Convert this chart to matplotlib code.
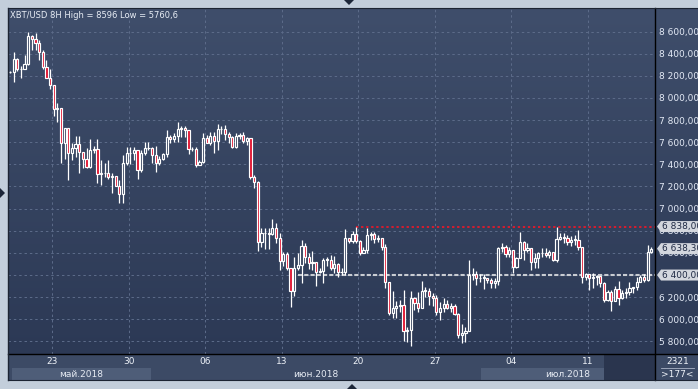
import numpy as np
import matplotlib
matplotlib.use("Agg")
import matplotlib.pyplot as plt
from matplotlib.colors import LinearSegmentedColormap
from matplotlib.patches import Rectangle, Polygon
from matplotlib.lines import Line2D

# XBT/USD 8H candles (open = previous close)
first_open = 8231
closes = [8231, 8349, 8258, 8261, 8306, 8559, 8529, 8499, 8412, 8282,
          8177, 8114, 7897, 7906, 7590, 7725, 7500, 7545, 7580, 7508,
          7445, 7380, 7530, 7540, 7310, 7320, 7318, 7283, 7295, 7208,
          7132, 7409, 7500, 7505, 7530, 7349, 7500, 7545, 7550, 7485,
          7410, 7445, 7490, 7644, 7625, 7655, 7720, 7725, 7710, 7535,
          7540, 7395, 7424, 7635, 7596, 7656, 7614, 7716, 7716, 7671,
          7644, 7560, 7656, 7665, 7614, 7641, 7289, 7238, 6702, 6777,
          6777, 6770, 6822, 6732, 6527, 6590, 6461, 6259, 6461, 6491,
          6665, 6566, 6506, 6521, 6430, 6436, 6536, 6536, 6461, 6497,
          6424, 6430, 6732, 6707, 6768, 6707, 6596, 6626, 6762, 6768,
          6726, 6731, 6656, 6334, 6054, 6105, 6120, 6126, 5895, 5904,
          6190, 6145, 6105, 6256, 6260, 6214, 6190, 6063, 6100, 6136,
          6105, 6124, 6051, 5858, 5874, 5897, 6400, 6406, 6370, 6375,
          6376, 6352, 6325, 6346, 6641, 6656, 6587, 6626, 6476, 6557,
          6701, 6626, 6641, 6521, 6551, 6596, 6602, 6581, 6605, 6536,
          6726, 6747, 6737, 6701, 6716, 6720, 6650, 6385, 6406, 6370,
          6385, 6388, 6331, 6175, 6250, 6166, 6274, 6190, 6235, 6244,
          6286, 6290, 6340, 6385, 6355, 6611, 6638.3]
highs = [8240, 8418, 8360, 8290, 8388, 8596, 8572, 8590, 8523, 8433,
         8343, 8258, 8114, 7951, 7906, 7730, 7725, 7590, 7655, 7655,
         7508, 7545, 7630, 7570, 7630, 7440, 7410, 7440, 7320, 7295,
         7258, 7484, 7560, 7560, 7560, 7530, 7530, 7605, 7605, 7560,
         7565, 7475, 7500, 7710, 7665, 7680, 7780, 7745, 7745, 7710,
         7560, 7560, 7440, 7680, 7665, 7695, 7695, 7765, 7746, 7755,
         7695, 7656, 7680, 7686, 7695, 7650, 7641, 7305, 7250, 6822,
         6822, 6822, 6906, 6873, 6776, 6610, 6612, 6461, 6563, 6596,
         6717, 6686, 6596, 6620, 6521, 6460, 6551, 6560, 6581, 6572,
         6506, 6460, 6816, 6738, 6798, 6838, 6716, 6656, 6828, 6792,
         6792, 6762, 6737, 6677, 6340, 6256, 6166, 6175, 6265, 5934,
         6256, 6205, 6250, 6346, 6295, 6280, 6235, 6220, 6153, 6190,
         6175, 6145, 6135, 6054, 5955, 5930, 6536, 6460, 6436, 6406,
         6406, 6370, 6370, 6370, 6656, 6686, 6671, 6656, 6626, 6566,
         6792, 6707, 6686, 6641, 6596, 6611, 6641, 6641, 6626, 6575,
         6838, 6777, 6777, 6762, 6755, 6762, 6807, 6656, 6415, 6406,
         6415, 6400, 6370, 6340, 6265, 6265, 6304, 6346, 6265, 6280,
         6340, 6295, 6385, 6400, 6406, 6671, 6650]
lows = [8225, 8147, 8245, 8177, 8261, 8300, 8433, 8430, 8343, 8258,
        8177, 8081, 7840, 7786, 7409, 7450, 7260, 7440, 7463, 7325,
        7364, 7364, 7364, 7505, 7230, 7214, 7290, 7265, 7144, 7200,
        7047, 7055, 7395, 7404, 7440, 7265, 7334, 7485, 7530, 7410,
        7334, 7394, 7440, 7470, 7595, 7605, 7605, 7650, 7650, 7493,
        7520, 7380, 7394, 7409, 7590, 7575, 7500, 7530, 7674, 7620,
        7596, 7545, 7550, 7626, 7596, 7575, 7268, 7183, 6620, 6656,
        6632, 6632, 6760, 6690, 6446, 6482, 6446, 6114, 6211, 6446,
        6325, 6512, 6452, 6446, 6301, 6420, 6325, 6482, 6446, 6415,
        6385, 6400, 6400, 6686, 6686, 6686, 6581, 6596, 6596, 6716,
        6686, 6701, 6626, 6286, 6039, 6009, 6015, 6070, 5804, 5798,
        5761, 6085, 6070, 6100, 6205, 6130, 6124, 6039, 5994, 6070,
        6093, 6070, 6039, 5828, 5783, 5798, 5890, 6355, 6310, 6340,
        6274, 6330, 6280, 6280, 6310, 6611, 6566, 6566, 6416, 6461,
        6551, 6536, 6611, 6446, 6461, 6461, 6566, 6566, 6551, 6527,
        6521, 6717, 6686, 6671, 6665, 6671, 6626, 6325, 6355, 6265,
        6280, 6310, 6295, 6153, 6166, 6078, 6220, 6130, 6183, 6190,
        6220, 6235, 6265, 6340, 6340, 6346, 6596]

price_ticks = list(range(5800, 8601, 200))
day_labels = ["23", "30", "06", "13", "20", "27", "04", "11"]
first_day_pos = 11.6          # candle index of the first date tick
month_labels = ["май.2018", "июн.2018", "июл.2018"]
month_starts = [None, 38.6, 129.2]   # candle index of each month start
levels = [6838.00, 6400.00]
level_from = [95, 79]
last_price = 6638.30
title = "XBT/USD 8H High = 8596 Low = 5760,6"

closes = np.array(closes, dtype=float)
opens = np.concatenate([[first_open], closes[:-1]])
highs = np.maximum(np.array(highs, float), np.maximum(opens, closes))
lows = np.minimum(np.array(lows, float), np.minimum(opens, closes))
n = len(closes)
x = np.arange(n)

W, H = 698, 389
fig = plt.figure(figsize=(W / 100, H / 100), dpi=100)
fig.patch.set_facecolor('#c3cedb')


def box(x0, y0, x1, y1):
    return [x0 / W, 1 - y1 / H, (x1 - x0) / W, (y1 - y0) / H]


def ru(v, nd):
    return f"{v:,.{nd}f}".replace(",", " ").replace(".", ",")


# gradient background behind chart + price scale
grad = LinearSegmentedColormap.from_list('bg', ['#3f4e6b', '#2c3955'])
bg = fig.add_axes(box(8, 8, 698, 354))
bg.imshow(np.linspace(0, 1, 256).reshape(-1, 1), cmap=grad, aspect='auto',
          extent=[0, 1, 0, 1])
bg.axis('off')

ax = fig.add_axes(box(8, 8, 655, 354))
ax.patch.set_alpha(0)
step = 3.644
xmin = -2 / step
xmax = (n - 1) + 3.7 / step
ax.set_xlim(xmin, xmax)
ppx = 200 / 22.14
ylo, yhi = 8600 - (354 - 31.5) * ppx, 8600 + (31.5 - 8) * ppx
ax.set_ylim(ylo, yhi)
for s in ax.spines.values():
    s.set_visible(False)

day_pos = [first_day_pos + 21 * k for k in range(len(day_labels))]
ax.set_xticks(day_pos)
ax.set_yticks(price_ticks)
ax.yaxis.tick_right()
ax.set_yticklabels([ru(v, 3) for v in price_ticks])
ax.tick_params(axis='y', length=0, pad=3, labelsize=6.5, labelcolor='#e4eaf6')
ax.tick_params(axis='x', length=0, labelbottom=False)
ax.grid(True, color='#5d6c8a', ls=(0, (2.5, 3)), lw=0.7)
ax.set_axisbelow(True)

# level lines
ax.hlines(levels[0], level_from[0], xmax, color='#d81c2e', lw=1.4, ls=(0, (1.2, 1.4)), zorder=2)
ax.hlines(levels[1], level_from[1], xmax, color='#c9ccd2', lw=1.5, ls=(0, (2, 1)), zorder=2)

# candles
up = closes >= opens
body_lo = np.minimum(opens, closes)
body_hi = np.maximum(opens, closes)
ax.vlines(x, lows, body_lo, color='white', lw=0.9, zorder=3)
ax.vlines(x, body_hi, highs, color='white', lw=0.9, zorder=3)
hgt = np.maximum(body_hi - body_lo, 6)
ax.bar(x[up], hgt[up], bottom=body_lo[up], width=0.6, facecolor='#33405c',
       edgecolor='white', lw=0.85, zorder=4)
ax.bar(x[~up], hgt[~up], bottom=body_lo[~up], width=0.6, facecolor='#e0102c',
       edgecolor='white', lw=0.85, zorder=4)

# price tags on the scale (own axes so they sit above the tick labels)
tax = fig.add_axes(box(655, 8, 698, 354))
tax.patch.set_alpha(0)
tax.set_xlim(655, 698)
tax.set_ylim(ylo, yhi)
tax.axis('off')
hh = 5.5 * ppx
for v in levels + [last_price]:
    tax.add_patch(Polygon([(657, v), (661, v + hh), (700, v + hh),
                           (700, v - hh), (661, v - hh)], closed=True,
                          clip_on=False, fc='#d3d7de', ec='none', zorder=6))
    tax.text(661.5, v, ru(v, 2), fontsize=6.5, color='#1f2a44', va='center',
             ha='left', clip_on=False, zorder=7)

# date strip
bax = fig.add_axes(box(8, 354, 655, 380))
bax.set_facecolor('#3c4a65')
bax.set_xlim(xmin, xmax)
bax.set_ylim(0, 1)
bax.set_xticks([])
bax.set_yticks([])
for s in bax.spines.values():
    s.set_visible(False)
for p, lab in zip(day_pos, day_labels):
    bax.text(p, 0.7, lab, ha='center', va='center', fontsize=6.5, color='#eef2f8')
bounds = [0.55] + month_starts[1:] + [xmax]
for k, lab in enumerate(month_labels):
    a, b = bounds[k], bounds[k + 1]
    if k % 2 == 0:
        bax.add_patch(Rectangle((a, 0), b - a, 0.46, fc='#4e5d78', ec='none', zorder=0))
    bax.text((a + b) / 2, 0.22, lab, ha='center', va='center', fontsize=6.5, color='#e6ebf3')
dark_from = 163
bax.add_patch(Rectangle((dark_from, 0), xmax - dark_from, 1, fc='#2a354e', ec='none', zorder=1))

rax = fig.add_axes(box(655, 354, 698, 380))
rax.set_facecolor('#3c4a65')
rax.set_xlim(0, 1)
rax.set_ylim(0, 1)
rax.set_xticks([])
rax.set_yticks([])
for s in rax.spines.values():
    s.set_visible(False)
rax.text(0.52, 0.7, "2321", ha='center', va='center', fontsize=6.5, color='#eef2f8')
rax.text(0.52, 0.22, f">{n}<", ha='center', va='center', fontsize=6.5, color='#eef2f8')
rax.plot([0.15, 0.9], [0.47, 0.47], color='#aab4c6', lw=0.6)

# separators and frame
fig.add_artist(Line2D([655 / W, 655 / W], [1 - 8 / H, 1 - 380 / H], color='black', lw=1))
fig.add_artist(Line2D([8 / W, 1], [1 - 354 / H, 1 - 354 / H], color='black', lw=1))
fig.add_artist(Line2D([8 / W, 8 / W], [1 - 8 / H, 1 - 380 / H], color='#1c2433', lw=1))
fig.add_artist(Line2D([8 / W, 1], [1 - 8 / H, 1 - 8 / H], color='#1c2433', lw=0.8))
fig.add_artist(Line2D([8 / W, 1], [1 - 380 / H, 1 - 380 / H], color='#1c2433', lw=0.8))

# small navigation triangles
for pts in ([(344, 0), (354, 0), (349, 5)], [(0, 188), (0, 198), (5, 193)],
            [(347, 389), (357, 389), (352, 384)]):
    fig.add_artist(Polygon([(px / W, 1 - py / H) for px, py in pts], closed=True,
                           transform=fig.transFigure, fc='#1c2638', ec='none'))

fig.text(10 / W, 1 - 15 / H, title, fontsize=6, color='#e8edf5', va='center', ha='left')

fig.savefig("out.png", dpi=100)
